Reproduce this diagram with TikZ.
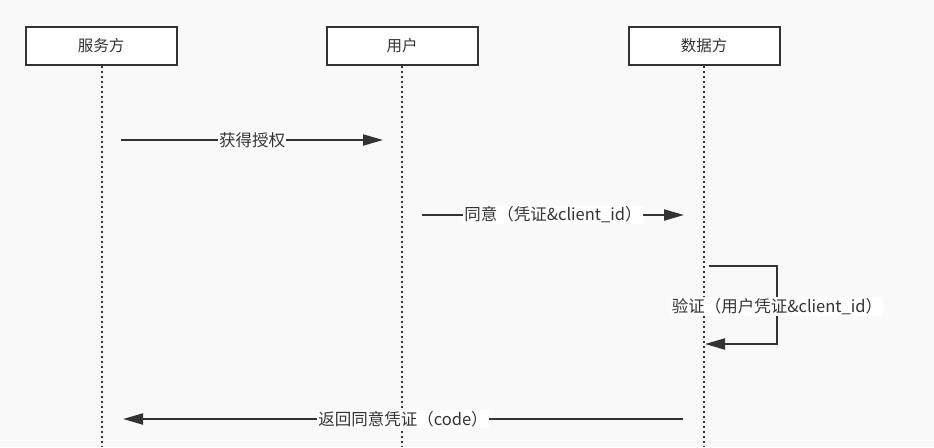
\documentclass[tikz,border=0pt]{standalone}
\usepackage{fontspec}
\setmainfont{Noto Sans CJK SC}
\usetikzlibrary{arrows.meta}
\definecolor{bg}{HTML}{F9F9F9}
\definecolor{ink}{HTML}{333333}
\tikzset{
  actor/.style={draw=ink, line width=2pt, fill=white, minimum width=151pt, minimum height=38pt, inner sep=0pt, text=ink, font=\fontsize{15.5}{18}\selectfont},
  lifeline/.style={draw=ink, line width=2.2pt, dash pattern=on 2.2pt off 2.8pt},
  msg/.style={draw=ink, line width=2pt, -{Triangle[length=20pt,width=11pt]}},
  msglabel/.style={fill=white, text=ink, inner sep=1pt, font=\fontsize{16.5}{19}\selectfont}
}
\begin{document}
\begin{tikzpicture}[x=1pt,y=-1pt]
\fill[bg] (0,0) rectangle (934,447);
\useasboundingbox (0,0) rectangle (934,447);
% actors
\node[actor] (s) at (101,46) {服务方};
\node[actor] (u) at (402,46) {用户};
\node[actor] (d) at (704,46) {数据方};
% lifeline ends
\coordinate (sb) at (102,447);
\coordinate (ub) at (402,447);
\coordinate (db) at (704,447);
\draw[lifeline] (s.south -| sb) -- (sb);
\draw[lifeline] (u.south -| ub) -- (ub);
\draw[lifeline] (d.south -| db) -- (db);
% message 1
\coordinate (m1a) at (121,140);
\coordinate (m1b) at (383,140);
\draw[msg] (m1a) -- node[msglabel] (l1) {获得授权} (m1b);
% message 2
\coordinate (m2a) at (422,215);
\coordinate (m2b) at (684,215);
\draw[msg] (m2a) -- node[msglabel] (l2) {同意（凭证\&client\_id）} (m2b);
% self message
\coordinate (m3a) at (709,266);
\coordinate (m3r1) at (777,266);
\coordinate (m3r2) at (777,344);
\coordinate (m3b) at (705,344);
\draw[msg] (m3a) -- (m3r1) -- node[msglabel, pos=0.52] (l3) {验证（用户凭证\&client\_id）} (m3r2) -- (m3b);
% message 4
\coordinate (m4a) at (683,419);
\coordinate (m4b) at (123,419);
\draw[msg] (m4a) -- node[msglabel] (l4) {返回同意凭证（code）} (m4b);
\end{tikzpicture}
\end{document}
